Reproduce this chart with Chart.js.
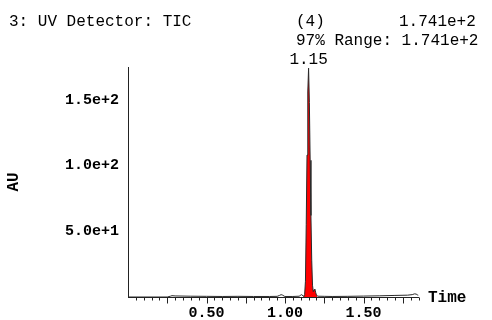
<!DOCTYPE html>
<html>
<head>
<meta charset="utf-8">
<script src="https://cdn.jsdelivr.net/npm/chart.js@4/dist/chart.umd.min.js"></script>
<style>
  body { margin: 0; background: #fff; }
  #wrap { width: 492px; height: 320px; }
</style>
</head>
<body>
<div id="wrap"><canvas id="tic" width="492" height="320"></canvas></div>
<script>
// UV trace (TIC), retention time in minutes vs absorbance
const times = [
  0.00, 0.25, 0.27, 0.28, 0.30, 0.40, 0.50, 0.60, 0.70, 0.80, 0.90, 0.95,
  0.965, 0.975, 0.985, 0.995, 1.00, 1.05, 1.09, 1.10, 1.105, 1.11, 1.115,
  1.12, 1.125, 1.13, 1.135, 1.14, 1.145, 1.15, 1.155, 1.16, 1.165, 1.17,
  1.175, 1.18, 1.185, 1.19, 1.195, 1.20, 1.205, 1.21, 1.25, 1.30, 1.40,
  1.50, 1.60, 1.70, 1.78, 1.81, 1.825, 1.835, 1.845, 1.85
];
const values = [
  0.0, 0.0, 0.6, 1.0, 0.8, 0.6, 0.5, 0.4, 0.5, 0.4, 0.4, 0.5,
  1.2, 1.8, 1.4, 0.6, 0.4, 0.4, 0.6, 1.4, 1.8, 1.5, 0.7,
  0.5, 2.0, 12.0, 55.0, 108.0, 156.0, 174.1, 148.0, 104.0, 62.0, 28.0,
  9.0, 4.0, 5.5, 6.0, 3.5, 1.5, 0.8, 0.6, 0.5, 0.4, 0.5,
  0.7, 0.9, 1.2, 1.4, 1.8, 2.4, 2.2, 1.5, 1.3
];

// integrated peak window (shaded red)
const peakStart = 1.12;
const peakEnd = 1.205;

const xLabels = [0.50, 1.00, 1.50];
const yLabels = [50, 100, 150];
const xMax = 1.85;
const yMax = 175;

const trace = times.map((t, i) => ({ x: t, y: values[i] }));
const peakArea = trace.filter(p => p.x >= peakStart && p.x <= peakEnd);

let apex = trace[0];
trace.forEach(p => { if (p.y > apex.y) apex = p; });

const mono = "'Liberation Mono', 'Courier New', monospace";

// header lines, axis names, apex label and the time-axis tick marks
const decor = {
  id: 'decor',
  afterDraw(chart) {
    const c = chart.ctx;
    const xs = chart.scales.x, ys = chart.scales.y;
    c.save();
    c.fillStyle = '#000';
    c.textBaseline = 'alphabetic';
    c.font = '16px ' + mono;
    c.textAlign = 'left';
    c.fillText('3: UV Detector: TIC', 9, 26);
    c.fillText('(4)', 296, 26);
    c.fillText(apex.y.toExponential(3), 399, 26);
    c.fillText('97% Range: ' + apex.y.toExponential(3), 296, 45);

    c.textAlign = 'center';
    c.fillText(apex.x.toFixed(2), xs.getPixelForValue(apex.x), ys.getPixelForValue(apex.y) - 4);

    c.font = 'bold 16px ' + mono;
    c.textAlign = 'left';
    c.textBaseline = 'middle';
    c.fillText('Time', 428, ys.getPixelForValue(0) + 1);

    c.translate(14, 182);
    c.rotate(-Math.PI / 2);
    c.textAlign = 'center';
    c.fillText('AU', 0, 0);
    c.restore();

    // minor ticks every 0.05, longer ones every 0.25
    c.save();
    c.strokeStyle = '#222';
    c.lineWidth = 1;
    const base = Math.round(ys.getPixelForValue(0)) + 0.5;
    c.beginPath();
    for (let k = 1; k * 0.05 <= xMax + 1e-9; k++) {
      const px = Math.round(xs.getPixelForValue(k * 0.05)) + 0.5;
      const len = k % 5 === 0 ? 6 : 3;
      c.moveTo(px, base);
      c.lineTo(px, base + len);
    }
    c.stroke();
    c.restore();
  }
};

new Chart(document.getElementById('tic'), {
  type: 'line',
  data: {
    datasets: [
      {
        data: trace,
        borderColor: '#2a2a2a',
        borderWidth: 1,
        pointRadius: 0,
        tension: 0,
        fill: false,
        order: 0
      },
      {
        data: peakArea,
        borderColor: '#ff0000',
        borderWidth: 0,
        backgroundColor: '#ff0000',
        pointRadius: 0,
        tension: 0,
        fill: 'origin',
        order: 1
      }
    ]
  },
  options: {
    responsive: false,
    animation: false,
    events: [],
    layout: { padding: { top: 67, right: 73.5, left: 0, bottom: 0 } },
    plugins: { legend: { display: false }, tooltip: { enabled: false } },
    scales: {
      x: {
        type: 'linear',
        min: 0,
        max: xMax,
        afterFit: s => { s.height = 23; },
        afterBuildTicks: s => { s.ticks = xLabels.map(v => ({ value: v })); },
        grid: { display: false, drawTicks: false },
        border: { display: true, color: '#222', width: 1 },
        ticks: {
          color: '#000',
          padding: 7,
          maxRotation: 0,
          font: { family: mono, size: 15, weight: 'bold' },
          callback: v => v.toFixed(2)
        }
      },
      y: {
        min: 0,
        max: yMax,
        afterFit: s => { s.width = 128; },
        afterBuildTicks: s => { s.ticks = yLabels.map(v => ({ value: v })); },
        grid: { display: false, drawTicks: false },
        border: { display: true, color: '#222', width: 1 },
        ticks: {
          color: '#000',
          padding: 9,
          font: { family: mono, size: 15, weight: 'bold' },
          callback: v => v.toExponential(1)
        }
      }
    }
  },
  plugins: [decor]
});
</script>
</body>
</html>
